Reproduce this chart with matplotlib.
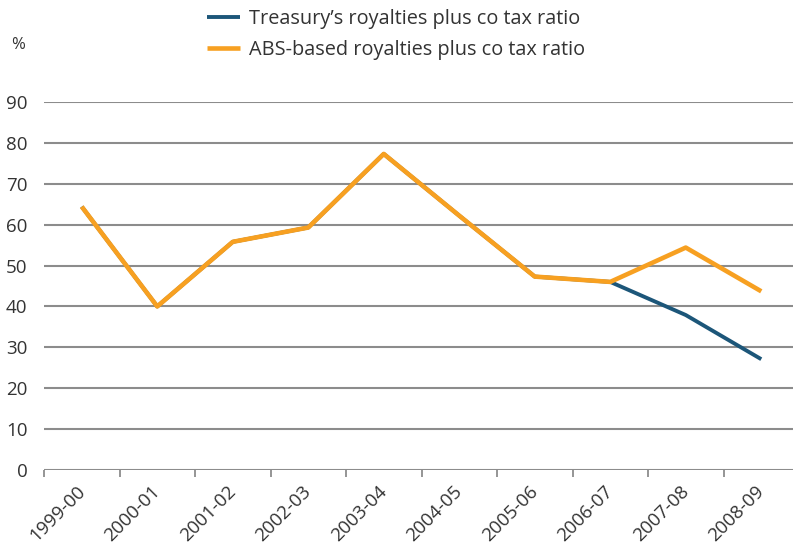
import matplotlib
matplotlib.use("Agg")
import matplotlib.pyplot as plt
import matplotlib.transforms as mtransforms
import numpy as np

categories = ["1999-00", "2000-01", "2001-02", "2002-03", "2003-04",
              "2004-05", "2005-06", "2006-07", "2007-08", "2008-09"]
treasury = [64.4, 40.0, 55.8, 59.3, 77.3, 62.2, 47.3, 46.0, 37.9, 27.1]
abs_based = [64.4, 40.0, 55.8, 59.3, 77.3, 62.2, 47.3, 46.0, 54.4, 43.7]
yticks = [0, 10, 20, 30, 40, 50, 60, 70, 80, 90]

plt.rcParams['font.family'] = ['Open Sans', 'DejaVu Sans']

W, H = 793, 550
fig = plt.figure(figsize=(W / 100, H / 100), dpi=100)
ax = fig.add_axes([44 / W, 1 - 470 / H, (799 - 44) / W, (470 - 102) / H])

x = np.arange(len(categories))
blue = "#1C5679"
orange = "#F7A021"
l1, = ax.plot(x, treasury, color=blue, lw=2.8, solid_capstyle='butt', zorder=3,
              label="Treasury’s royalties plus co tax ratio")
l2, = ax.plot(x, abs_based, color=orange, lw=3.3, solid_capstyle='butt', zorder=4,
              label="ABS-based royalties plus co tax ratio")

ax.set_xlim(-0.5, len(categories) - 0.5)
ax.set_ylim(0, 90)
ax.set_yticks(yticks)
ax.set_yticklabels([str(v) for v in yticks], fontsize=13.5, color="#333333")
ax.tick_params(axis='y', length=0, pad=12)
ax.grid(axis='y', color="#8c8c8c", lw=1.5, zorder=1)
ax.set_axisbelow(True)
for s in ax.spines.values():
    s.set_visible(False)

ax.set_xticks(x)
ax.set_xticklabels(categories, rotation=45, ha='right', va='top',
                   rotation_mode='anchor', fontsize=13.5, color="#333333")
ax.tick_params(axis='x', length=0, pad=9)
offset = mtransforms.ScaledTranslation(-6 / 100, 0, fig.dpi_scale_trans)
for lab in ax.get_xticklabels():
    lab.set_transform(lab.get_transform() + offset)
ax.set_xticks(np.arange(-0.5, len(categories) - 0.5, 1.0), minor=True)
ax.tick_params(axis='x', which='minor', length=5, width=1.3, color="#8c8c8c")

fig.text(11 / W, 1 - 45 / H, "%", fontsize=12, color="#333333", va='center')

leg = fig.legend(handles=[l1, l2], loc='upper left',
                 bbox_to_anchor=(199 / W, 1 - 1 / H), frameon=False,
                 fontsize=14.3, handlelength=1.65, handletextpad=0.45,
                 labelspacing=0.55, borderaxespad=0)
for t in leg.get_texts():
    t.set_color("#333333")

fig.savefig("out.png", dpi=100)
